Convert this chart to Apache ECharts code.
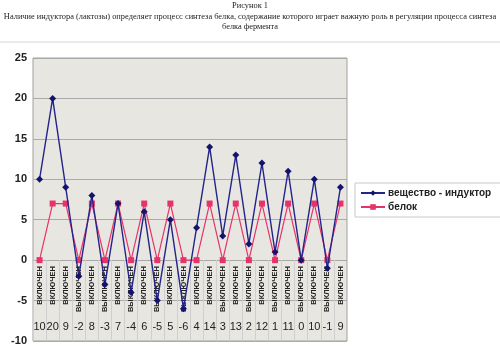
<!DOCTYPE html>
<html>
<head>
<meta charset="utf-8">
<script src="https://cdn.jsdelivr.net/npm/echarts@6/dist/echarts.min.js"></script>
<style>
  html, body { margin: 0; padding: 0; background: #ffffff; }
  #chart { width: 500px; height: 349px; }
</style>
</head>
<body>
<div id="chart"></div>
<script>
// Inductor state per step (upper row of the category axis)
const stateLabels = [
  'ВКЛЮЧЕН', 'ВКЛЮЧЕН', 'ВКЛЮЧЕН', 'ВЫКЛЮЧЕН', 'ВКЛЮЧЕН', 'ВЫКЛЮЧЕН',
  'ВКЛЮЧЕН', 'ВЫКЛЮЧЕН', 'ВКЛЮЧЕН', 'ВЫКЛЮЧЕН', 'ВКЛЮЧЕН', 'ВЫКЛЮЧЕН',
  'ВКЛЮЧЕН', 'ВКЛЮЧЕН', 'ВЫКЛЮЧЕН', 'ВКЛЮЧЕН', 'ВЫКЛЮЧЕН', 'ВКЛЮЧЕН',
  'ВЫКЛЮЧЕН', 'ВКЛЮЧЕН', 'ВЫКЛЮЧЕН', 'ВКЛЮЧЕН', 'ВЫКЛЮЧЕН', 'ВКЛЮЧЕН'
];
// вещество - индуктор
const inductor = [10, 20, 9, -2, 8, -3, 7, -4, 6, -5, 5, -6, 4, 14, 3, 13, 2, 12, 1, 11, 0, 10, -1, 9];
// белок
const protein = [0, 7, 7, 0, 7, 0, 7, 0, 7, 0, 7, 0, 0, 7, 0, 7, 0, 7, 0, 7, 0, 7, 0, 7];
// lower row of the category axis: the inductor amount at each step
const amountLabels = inductor.map(String);
const yTicks = { min: -10, max: 25, step: 5 };

// plot rectangle
const GRID = { left: 33, right: 153, top: 58, bottom: 8 };
const CH = 349;
const plotHeight = CH - GRID.top - GRID.bottom;
// the state-label axis sits on the zero line: lift it from the bottom edge
const zeroLift = plotHeight * (0 - yTicks.min) / (yTicks.max - yTicks.min);

const chart = echarts.init(document.getElementById('chart'), null, { renderer: 'canvas' });

const titleText = 'Рисунок 1\n' +
  'Наличие индуктора (лактозы) определяет процесс синтеза белка, содержание которого играет важную роль в регуляции процесса синтеза\n' +
  'белка фермента';

chart.setOption({
  animation: false,
  backgroundColor: '#ffffff',
  title: {
    text: titleText,
    left: 'center',
    top: 1,
    padding: 0,
    textStyle: {
      fontFamily: 'Liberation Serif',
      fontSize: 8.4,
      fontWeight: 'normal',
      color: '#222222',
      lineHeight: 10.5,
      align: 'center'
    }
  },
  graphic: [{
    type: 'line',
    shape: { x1: 0, y1: 42, x2: 500, y2: 42 },
    style: { stroke: '#d4d4d4', lineWidth: 1 },
    silent: true
  }],
  legend: {
    left: 355,
    top: 183,
    orient: 'vertical',
    itemGap: 4,
    itemWidth: 24,
    itemHeight: 7,
    padding: [5, 20, 5, 5],
    borderColor: '#c8c8c8',
    borderWidth: 1,
    backgroundColor: '#ffffff',
    borderRadius: 0,
    textStyle: {
      fontFamily: 'Liberation Sans',
      fontSize: 10,
      fontWeight: 'bold',
      color: '#222222',
      padding: [0, 0, 0, -2]
    },
    data: ['вещество - индуктор', 'белок']
  },
  grid: {
    left: GRID.left,
    right: GRID.right,
    top: GRID.top,
    bottom: GRID.bottom,
    outerBoundsMode: 'none',
    containLabel: false,
    show: true,
    backgroundColor: '#e8e6e0',
    borderColor: '#a0a0a0',
    borderWidth: 1
  },
  xAxis: [{
    type: 'category',
    data: stateLabels,
    boundaryGap: true,
    position: 'bottom',
    offset: -zeroLift,
    axisLine: { show: true, onZero: false, lineStyle: { color: '#a8a8a8', width: 1 } },
    axisTick: { show: true, length: zeroLift, lineStyle: { color: '#cfcfcf', width: 1 } },
    axisLabel: {
      interval: 0,
      rotate: 90,
      margin: 6,
      fontFamily: 'Liberation Sans',
      fontSize: 7.5,
      fontWeight: 'bold',
      color: '#222222'
    },
    splitLine: { show: false }
  }, {
    type: 'category',
    data: amountLabels,
    boundaryGap: true,
    position: 'bottom',
    axisLine: { show: false, onZero: false },
    axisTick: { show: false },
    axisLabel: {
      interval: 0,
      inside: true,
      margin: 9,
      fontFamily: 'Liberation Sans',
      fontSize: 11,
      color: '#222222'
    },
    splitLine: { show: false }
  }],
  yAxis: {
    type: 'value',
    min: yTicks.min,
    max: yTicks.max,
    interval: yTicks.step,
    axisLine: { show: false },
    axisTick: { show: false },
    axisLabel: {
      margin: 6,
      fontFamily: 'Liberation Sans',
      fontSize: 11,
      fontWeight: 'bold',
      color: '#222222'
    },
    splitLine: { show: true, lineStyle: { color: '#aaaaaa', width: 1 } }
  },
  series: [{
    name: 'вещество - индуктор',
    type: 'line',
    xAxisIndex: 0,
    data: inductor,
    symbol: 'diamond',
    symbolSize: 7,
    itemStyle: { color: '#14146e' },
    lineStyle: { color: '#24248a', width: 1.4 },
    z: 3
  }, {
    name: 'белок',
    type: 'line',
    xAxisIndex: 0,
    data: protein,
    symbol: 'rect',
    symbolSize: 6,
    itemStyle: { color: '#e8336a' },
    lineStyle: { color: '#e8336a', width: 1.2 },
    z: 2
  }]
});
</script>
</body>
</html>
